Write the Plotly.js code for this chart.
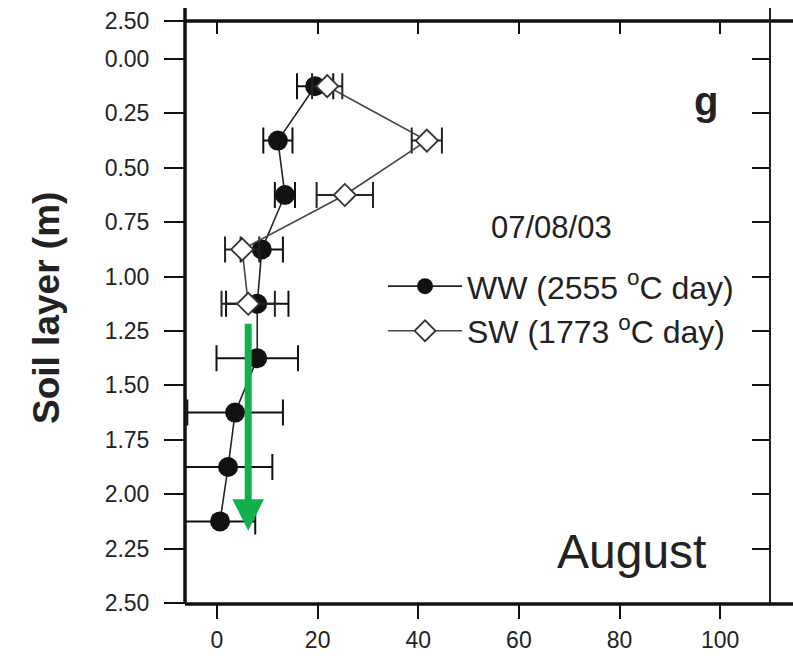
<!DOCTYPE html>
<html>
<head>
<meta charset="utf-8">
<script src="https://cdn.plot.ly/plotly-3.0.1.min.js"></script>
<style>html,body{margin:0;padding:0;background:#fff;}#chart{width:793px;height:666px;}</style>
</head>
<body>
<div id="chart"></div>
<script>
// Soil layer depths (m)
var wwDepth = [0.125, 0.375, 0.625, 0.875, 1.125, 1.375, 1.625, 1.875, 2.125];
var wwValue = [19.5, 12.1, 13.5, 8.9, 8.0, 8.0, 3.6, 2.2, 0.6];
var wwError = [3.6, 2.9, 2.0, 4.2, 6.2, 8.1, 9.5, 8.8, 7.0];

var swDepth = [0.125, 0.375, 0.625, 0.875, 1.125];
var swValue = [21.9, 41.7, 25.4, 5.0, 6.2];
var swError = [3.0, 3.0, 5.6, 3.4, 5.3];

var wwName = 'WW (2555 <sup>o</sup>C day)';
var swName = 'SW (1773 <sup>o</sup>C day)';

var xTickVals = [0, 20, 40, 60, 80, 100];
var yTickVals = [-0.174, 0, 0.25, 0.5, 0.75, 1.0, 1.25, 1.5, 1.75, 2.0, 2.25, 2.5];
var yTickText = ['2.50', '0.00', '0.25', '0.50', '0.75', '1.00', '1.25', '1.50', '1.75', '2.00', '2.25', '2.50'];

var arrowX = 6.2, arrowTail = 1.21, arrowHead = 2.168;

var FONT = 'Liberation Sans, Arial, Helvetica, sans-serif';
var xRange = [-6.36, 109.9];
var yRange = [2.5046, -0.1746];

var traces = [
  {
    x: wwValue, y: wwDepth, name: wwName, type: 'scatter', mode: 'lines+markers',
    legendgroup: 'a',
    line: {color: '#222', width: 1.6},
    marker: {symbol: 'circle', size: 20, color: '#111', line: {color: '#111', width: 0}},
    error_x: {type: 'data', array: wwError, visible: true, color: '#111', thickness: 2, width: 13}
  },
  {
    x: swValue, y: swDepth, name: swName, type: 'scatter', mode: 'lines+markers',
    legendgroup: 'b',
    line: {color: '#444', width: 1.6},
    marker: {symbol: 'diamond', size: 17, color: '#fff', line: {color: '#333', width: 1.8}},
    error_x: {type: 'data', array: swError, visible: true, color: '#222', thickness: 2, width: 13}
  },
  {
    x: [null], y: [null], xaxis: 'x2', yaxis: 'y2', showlegend: false, hoverinfo: 'skip',
    type: 'scatter', mode: 'markers'
  }
];

var pw = 585, ph = 583;
function px(x) { return (x - 185) / pw; }
function py(y) { return (604 - y) / ph; }

var layout = {
  width: 793, height: 666,
  margin: {l: 185, r: 23, t: 21, b: 62, pad: 0},
  paper_bgcolor: '#fff', plot_bgcolor: '#fff',
  font: {family: FONT, color: '#222'},
  showlegend: true,
  legend: {
    x: 0.3385, y: 0.592, xanchor: 'left', yanchor: 'top',
    bgcolor: 'rgba(0,0,0,0)', borderwidth: 0,
    font: {family: FONT, size: 32, color: '#222'},
    itemwidth: 74, tracegroupgap: 0, traceorder: 'grouped'
  },
  xaxis: {
    range: xRange, showgrid: false, zeroline: false, showline: false,
    tickvals: xTickVals, ticks: 'outside', ticklen: 14, tickwidth: 2, tickcolor: '#111',
    tickfont: {family: FONT, size: 23, color: '#222'}, ticklabelstandoff: 1
  },
  yaxis: {
    range: yRange, showgrid: false, zeroline: false, showline: false,
    tickvals: yTickVals, ticktext: yTickText, ticks: 'outside', ticklen: 20, tickwidth: 2, tickcolor: '#111',
    tickfont: {family: FONT, size: 23, color: '#222'}, ticklabelstandoff: 10
  },
  xaxis2: {
    overlaying: 'x', side: 'top', anchor: 'y2', range: xRange, showgrid: false, zeroline: false,
    showline: false, tickvals: xTickVals, ticks: 'inside', ticklen: 13, tickwidth: 2, tickcolor: '#111',
    showticklabels: false
  },
  yaxis2: {
    overlaying: 'y', side: 'right', anchor: 'x2', range: yRange, showgrid: false, zeroline: false,
    showline: false, tickvals: yTickVals, ticks: 'inside', ticklen: 18, tickwidth: 2, tickcolor: '#111',
    showticklabels: false
  },
  shapes: [
    {type: 'line', xref: 'paper', yref: 'paper', x0: 0, x1: 0, y0: 0, y1: 1 + 13 / ph, line: {color: '#111', width: 3.5}, layer: 'above'},
    {type: 'line', xref: 'paper', yref: 'paper', x0: 0, x1: (793 - 185) / pw, y0: 1, y1: 1, line: {color: '#111', width: 3.5}, layer: 'above'},
    {type: 'line', xref: 'paper', yref: 'paper', x0: 1, x1: 1, y0: 0, y1: 1 + 13 / ph, line: {color: '#222', width: 2}, layer: 'above'},
    {type: 'line', xref: 'paper', yref: 'paper', x0: 0, x1: (793 - 185) / pw, y0: 0, y1: 0, line: {color: '#111', width: 3.5}, layer: 'above'}
  ],
  annotations: [
    {text: 'Soil layer (m)', xref: 'paper', yref: 'paper', x: px(46), y: py(308), xanchor: 'center', yanchor: 'middle',
     textangle: -90, showarrow: false, font: {family: FONT, size: 37, color: '#222', weight: 'bold'}},
    {text: '<b>g</b>', xref: 'paper', yref: 'paper', x: px(706), y: py(101), xanchor: 'center', yanchor: 'middle',
     showarrow: false, font: {family: FONT, size: 40, color: '#222'}},
    {text: '07/08/03', xref: 'paper', yref: 'paper', x: px(551), y: py(228), xanchor: 'center', yanchor: 'middle',
     showarrow: false, font: {family: FONT, size: 31, color: '#222'}},
    {text: 'August', xref: 'paper', yref: 'paper', x: px(631), y: py(551), xanchor: 'center', yanchor: 'middle',
     showarrow: false, font: {family: FONT, size: 48, color: '#222'}},
    {text: '', x: arrowX, y: arrowHead, xref: 'x', yref: 'y', ax: arrowX, ay: arrowTail, axref: 'x', ayref: 'y',
     showarrow: true, arrowhead: 2, arrowsize: 0.9, arrowwidth: 7, arrowcolor: '#12b04b', standoff: 0}
  ]
};

Plotly.newPlot('chart', traces, layout, {displayModeBar: false, staticPlot: true});
</script>
</body>
</html>
